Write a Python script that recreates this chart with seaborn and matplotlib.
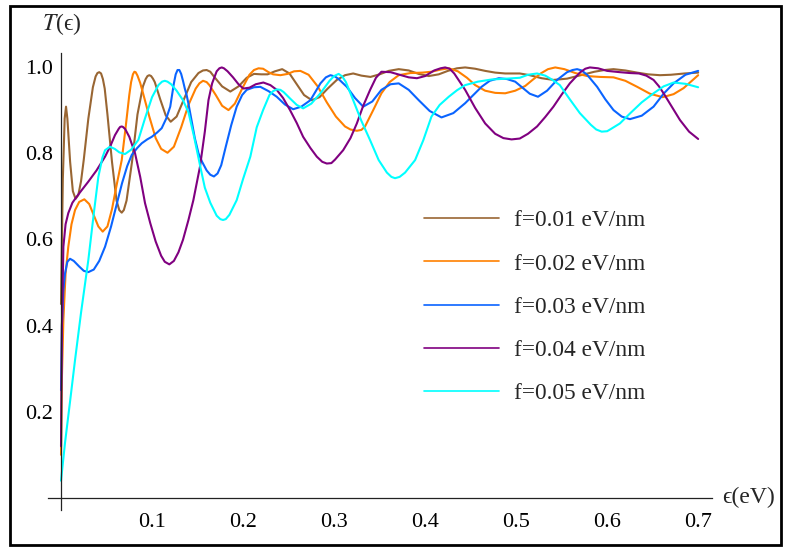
import numpy as np
import pandas as pd
import matplotlib
matplotlib.use("Agg")
import matplotlib.pyplot as plt
import seaborn as sns
from matplotlib.patches import Rectangle
from matplotlib.ticker import FixedLocator

# ---------------- data ----------------
labels = ["f=0.01 eV/nm", "f=0.02 eV/nm", "f=0.03 eV/nm", "f=0.04 eV/nm", "f=0.05 eV/nm"]
colors = ["#996633", "#FF8000", "#0A64FF", "#800080", "#00FFFF"]

eps_f01 = [0.000, 0.002, 0.004, 0.0055, 0.007, 0.010, 0.013, 0.016, 0.019, 0.022, 0.025, 0.030, 0.035, 0.038,
           0.040, 0.042, 0.044, 0.046, 0.048, 0.051, 0.056, 0.061, 0.064, 0.0667, 0.069, 0.072, 0.078, 0.084,
           0.090, 0.093, 0.095, 0.097, 0.099, 0.101, 0.103, 0.109, 0.115, 0.1205,
           0.127, 0.135, 0.143, 0.151, 0.156, 0.160, 0.164, 0.168, 0.177, 0.186, 0.195, 0.204, 0.212, 0.220, 0.227, 0.235,
           0.243, 0.251, 0.259, 0.267, 0.2755, 0.284, 0.293, 0.303, 0.312, 0.321, 0.330, 0.340, 0.350, 0.360,
           0.371, 0.382, 0.393, 0.404, 0.415, 0.425, 0.435, 0.444, 0.455, 0.466, 0.477, 0.488, 0.504, 0.515,
           0.528, 0.541, 0.556, 0.571, 0.586, 0.597, 0.607, 0.620, 0.633, 0.645, 0.658, 0.670, 0.685, 0.700]
T_f01 = [0.45, 0.74, 0.88, 0.908, 0.88, 0.78, 0.712, 0.694, 0.703, 0.735, 0.785, 0.88, 0.953, 0.978,
         0.986, 0.988, 0.985, 0.972, 0.950, 0.89, 0.78, 0.69, 0.668, 0.662, 0.668, 0.69, 0.78, 0.89,
         0.955, 0.972, 0.979, 0.981, 0.979, 0.973, 0.965, 0.925, 0.888, 0.873,
         0.885, 0.925, 0.965, 0.986, 0.992, 0.993, 0.989, 0.978, 0.955, 0.943, 0.955, 0.975, 0.984, 0.983, 0.983, 0.990,
         0.995, 0.985, 0.960, 0.935, 0.923, 0.930, 0.950, 0.970, 0.981, 0.985, 0.980, 0.977, 0.983, 0.991,
         0.995, 0.992, 0.984, 0.979, 0.983, 0.991, 0.997, 0.999, 0.996, 0.991, 0.987, 0.985, 0.985, 0.981,
         0.974, 0.970, 0.973, 0.981, 0.989, 0.993, 0.995, 0.992, 0.987, 0.983, 0.981, 0.982, 0.985, 0.987]

eps_f02 = [0.000, 0.001, 0.0026, 0.005, 0.008, 0.0115, 0.0154, 0.020, 0.0256, 0.031, 0.036, 0.041, 0.0458,
           0.051, 0.056, 0.061, 0.0667, 0.071, 0.075, 0.077, 0.079, 0.0806, 0.082, 0.084, 0.087, 0.090, 0.097,
           0.104, 0.110, 0.117,
           0.124, 0.132, 0.140, 0.148, 0.152, 0.156, 0.160, 0.163, 0.170, 0.177, 0.184, 0.191, 0.199, 0.207, 0.212,
           0.217, 0.222, 0.228, 0.233, 0.241, 0.249, 0.256, 0.263, 0.272, 0.282, 0.292, 0.302, 0.312, 0.318, 0.325,
           0.330, 0.334, 0.343, 0.352,
           0.361, 0.371, 0.384, 0.397, 0.407, 0.417, 0.426, 0.436, 0.446, 0.455, 0.466, 0.477, 0.488, 0.499,
           0.510, 0.518, 0.527, 0.535, 0.543, 0.553, 0.565, 0.578, 0.592, 0.607, 0.620, 0.633, 0.647, 0.661,
           0.673, 0.684, 0.692, 0.700]
T_f02 = [0.10, 0.28, 0.413, 0.52, 0.583, 0.635, 0.668, 0.687, 0.693, 0.682, 0.656, 0.630, 0.618,
         0.630, 0.670, 0.725, 0.784, 0.860, 0.935, 0.965, 0.983, 0.989, 0.988, 0.980, 0.963, 0.940, 0.885,
         0.835, 0.810, 0.801,
         0.815, 0.860, 0.912, 0.950, 0.962, 0.968, 0.965, 0.958, 0.935, 0.910, 0.900, 0.915, 0.950, 0.982, 0.993,
         0.997, 0.996, 0.988, 0.983, 0.981, 0.984, 0.990, 0.991, 0.982, 0.955, 0.918, 0.885, 0.862, 0.855, 0.852,
         0.854, 0.862, 0.900, 0.939,
         0.965, 0.981, 0.986, 0.987, 0.989, 0.994, 0.997, 0.990, 0.975, 0.958, 0.945, 0.940, 0.939, 0.945,
         0.956, 0.970, 0.985, 0.995, 0.999, 0.995, 0.986, 0.979, 0.977, 0.976, 0.968, 0.954, 0.938, 0.930,
         0.937, 0.951, 0.966, 0.981]

eps_f03 = [0.000, 0.001, 0.0025, 0.0044, 0.007, 0.0099, 0.014, 0.020, 0.025, 0.030, 0.036, 0.042, 0.0484,
           0.055, 0.061, 0.067, 0.0727, 0.0777, 0.0837, 0.0887, 0.0947, 0.0997, 0.1056, 0.1106, 0.1155, 0.120,
           0.122, 0.124, 0.126, 0.128, 0.130, 0.132, 0.134, 0.136, 0.138, 0.140, 0.1435, 0.147, 0.151, 0.155,
           0.160, 0.164, 0.168, 0.172, 0.176, 0.181, 0.187,
           0.193, 0.199, 0.204, 0.212, 0.219, 0.228, 0.237, 0.246, 0.255, 0.264, 0.274, 0.285, 0.291, 0.296, 0.301,
           0.305, 0.314, 0.323, 0.332, 0.342, 0.352, 0.362, 0.371, 0.382, 0.393, 0.405, 0.418, 0.431, 0.444,
           0.453, 0.462, 0.471, 0.481, 0.490, 0.499, 0.507, 0.515, 0.524, 0.534, 0.545, 0.556, 0.562, 0.567,
           0.572, 0.578, 0.589, 0.598, 0.607, 0.616, 0.625, 0.638, 0.651, 0.662, 0.673, 0.686, 0.700]
T_f03 = [0.25, 0.40, 0.48, 0.521, 0.548, 0.555, 0.550, 0.537, 0.527, 0.524, 0.530, 0.550, 0.583,
         0.630, 0.680, 0.730, 0.770, 0.796, 0.812, 0.823, 0.832, 0.838, 0.848, 0.858, 0.880, 0.908,
         0.935, 0.962, 0.983, 0.993, 0.993, 0.984, 0.968, 0.950, 0.935, 0.915, 0.875, 0.835, 0.800, 0.780,
         0.760, 0.750, 0.746, 0.753, 0.772, 0.815, 0.865,
         0.908, 0.935, 0.947, 0.953, 0.954, 0.944, 0.931, 0.913, 0.902, 0.908, 0.923, 0.962, 0.976, 0.981, 0.978,
         0.972, 0.954, 0.928, 0.908, 0.920, 0.947, 0.960, 0.962, 0.947, 0.923, 0.898, 0.883, 0.893, 0.916,
         0.935, 0.954, 0.968, 0.974, 0.972, 0.966, 0.952, 0.938, 0.931, 0.945, 0.970, 0.988, 0.993, 0.995,
         0.992, 0.982, 0.954, 0.925, 0.900, 0.885, 0.879, 0.887, 0.908, 0.938, 0.962, 0.982, 0.991]

eps_f04 = [0.000, 0.001, 0.0026, 0.005, 0.008, 0.0125, 0.0172, 0.023, 0.030, 0.039, 0.0484, 0.0545, 0.0593,
           0.0635, 0.065, 0.0667, 0.068, 0.0705, 0.075, 0.0813, 0.087, 0.0923, 0.098, 0.104, 0.110, 0.114, 0.119,
           0.124, 0.129, 0.134, 0.140, 0.1454, 0.1527, 0.158, 0.162, 0.166, 0.171, 0.174, 0.1766, 0.179, 0.183,
           0.189, 0.195, 0.2003,
           0.207, 0.214, 0.2223, 0.230, 0.237, 0.244, 0.2516, 0.259, 0.266, 0.274, 0.281, 0.287, 0.292, 0.297, 0.301,
           0.310, 0.318, 0.325, 0.332, 0.3396, 0.346, 0.352, 0.362, 0.372, 0.382, 0.391, 0.400, 0.410, 0.417,
           0.422, 0.427, 0.432, 0.444, 0.455, 0.466, 0.477, 0.486, 0.495, 0.504, 0.513, 0.523, 0.532, 0.541,
           0.550, 0.559, 0.570, 0.576, 0.581, 0.590, 0.600, 0.614, 0.625, 0.635, 0.643, 0.651, 0.657, 0.662,
           0.671, 0.680, 0.690, 0.700]
T_f04 = [0.12, 0.40, 0.583, 0.635, 0.661, 0.685, 0.699, 0.715, 0.734, 0.760, 0.792, 0.818, 0.842,
         0.857, 0.861, 0.862, 0.861, 0.856, 0.838, 0.800, 0.745, 0.684, 0.638, 0.595, 0.562, 0.548, 0.542,
         0.550, 0.570, 0.599, 0.645, 0.691, 0.769, 0.850, 0.923, 0.962, 0.990, 0.997, 0.999, 0.997, 0.990,
         0.976, 0.960, 0.950,
         0.952, 0.960, 0.964, 0.958, 0.947, 0.928, 0.900, 0.870, 0.838, 0.812, 0.792, 0.780, 0.776, 0.777, 0.785,
         0.807, 0.835, 0.869, 0.910, 0.947, 0.975, 0.989, 0.988, 0.982, 0.976, 0.974, 0.979, 0.992, 0.997,
         0.999, 0.996, 0.985, 0.947, 0.905, 0.869, 0.845, 0.835, 0.832, 0.834, 0.845, 0.862, 0.884, 0.908,
         0.936, 0.962, 0.987, 0.996, 0.999, 0.997, 0.991, 0.988, 0.986, 0.985, 0.980, 0.970, 0.955, 0.939,
         0.908, 0.877, 0.850, 0.833]

eps_f05 = [0.000, 0.0044, 0.010, 0.0154, 0.022, 0.030, 0.036, 0.041, 0.0455, 0.0484, 0.0538, 0.059, 0.064,
           0.0703, 0.077, 0.085, 0.0923, 0.100, 0.107, 0.111, 0.114, 0.117, 0.121, 0.127, 0.134, 0.140, 0.146,
           0.153, 0.158, 0.164, 0.171, 0.175, 0.178, 0.181, 0.185, 0.193, 0.200, 0.208, 0.215, 0.222, 0.229,
           0.233, 0.237, 0.241, 0.2445, 0.2516, 0.259,
           0.266, 0.275, 0.285, 0.295, 0.300, 0.305, 0.309, 0.313, 0.321, 0.330, 0.3396, 0.349, 0.358, 0.363, 0.367,
           0.372, 0.378, 0.389, 0.398, 0.407, 0.416, 0.426, 0.435, 0.444, 0.458, 0.473, 0.490, 0.504, 0.513,
           0.523, 0.532, 0.540, 0.548, 0.559, 0.570, 0.582, 0.588, 0.594, 0.600, 0.604, 0.614, 0.625, 0.638,
           0.651, 0.662, 0.673, 0.686, 0.700]
T_f05 = [0.04, 0.128, 0.225, 0.320, 0.430, 0.552, 0.660, 0.745, 0.790, 0.807, 0.815, 0.810, 0.802,
         0.798, 0.808, 0.831, 0.881, 0.930, 0.958, 0.966, 0.968, 0.966, 0.960, 0.945, 0.923, 0.895, 0.840,
         0.769, 0.720, 0.685, 0.655, 0.647, 0.645, 0.647, 0.657, 0.691, 0.740, 0.792, 0.860, 0.900, 0.935,
         0.944, 0.948, 0.947, 0.942, 0.927, 0.912,
         0.904, 0.915, 0.939, 0.968, 0.979, 0.984, 0.978, 0.965, 0.923, 0.875, 0.830, 0.784, 0.755, 0.745, 0.742,
         0.745, 0.755, 0.784, 0.830, 0.885, 0.912, 0.931, 0.946, 0.958, 0.966, 0.971, 0.973, 0.975, 0.982,
         0.985, 0.980, 0.970, 0.958, 0.925, 0.893, 0.866, 0.855, 0.850, 0.851, 0.856, 0.869, 0.892, 0.918,
         0.939, 0.955, 0.964, 0.961, 0.953]

x_ticks = [0.1, 0.2, 0.3, 0.4, 0.5, 0.6, 0.7]
x_tick_labels = ["0.1", "0.2", "0.3", "0.4", "0.5", "0.6", "0.7"]
y_ticks = [0.2, 0.4, 0.6, 0.8, 1.0]
y_tick_labels = ["0.2", "0.4", "0.6", "0.8", "1.0"]

# ---------------- build long-form table ----------------
series = [(eps_f01, T_f01), (eps_f02, T_f02), (eps_f03, T_f03), (eps_f04, T_f04), (eps_f05, T_f05)]
frames = []
for lab, (ex, ty) in zip(labels, series):
    frames.append(pd.DataFrame({"eps": ex, "T": ty, "curve": lab}))
df = pd.concat(frames, ignore_index=True)

# ---------------- styling ----------------
sns.set_theme(style="white")
plt.rcParams["font.family"] = ["Liberation Serif", "DejaVu Serif"]
plt.rcParams["mathtext.fontset"] = "stix"

W, H = 787, 547
fig = plt.figure(figsize=(W / 100, H / 100), dpi=100)
fig.patch.set_facecolor("white")

x0, x1 = -0.0143, 0.7152
y0, y1 = -0.028, 1.0325
ax = fig.add_axes([48 / W, 37 / H, (712 - 48) / W, (510 - 53) / H])
ax.set_facecolor("white")

sns.lineplot(data=df, x="eps", y="T", hue="curve", hue_order=labels, palette=colors,
             estimator=None, sort=False, linewidth=1.5, ax=ax, legend=True)
for ln in ax.get_lines():
    ln.set_solid_joinstyle("round")

ax.set_xlim(x0, x1)
ax.set_ylim(y0, y1)
ax.set_xlabel("")
ax.set_ylabel("")

for side in ["top", "right"]:
    ax.spines[side].set_visible(False)
ax.spines["left"].set_position(("data", 0))
ax.spines["bottom"].set_position(("data", 0))
for side in ["left", "bottom"]:
    ax.spines[side].set_color("#222222")
    ax.spines[side].set_linewidth(0.9)

ax.set_xticks(x_ticks)
ax.set_xticklabels(x_tick_labels)
ax.set_yticks(y_ticks)
ax.set_yticklabels(y_tick_labels)
ax.xaxis.set_minor_locator(FixedLocator([v / 100 for v in range(2, 71, 2) if v % 10 != 0]))
ax.yaxis.set_minor_locator(FixedLocator([v / 100 for v in range(5, 101, 5) if v % 20 != 0]))
ax.tick_params(which="both", direction="in", colors="#333333", labelcolor="black")
ax.tick_params(which="major", length=6, width=0.9, labelsize=16)
ax.tick_params(which="minor", length=3.2, width=0.8)
ax.tick_params(axis="x", which="major", pad=11)
ax.tick_params(axis="y", which="major", pad=6)

# legend
handles, labs = ax.get_legend_handles_labels()
ax.get_legend().remove()
leg = ax.legend(handles, labs, loc="upper left", bbox_to_anchor=(424 / W, 1 - 210 / H),
                bbox_transform=fig.transFigure, frameon=False, fontsize=16.8,
                handlelength=3.2, handletextpad=0.64, labelspacing=0.94, borderpad=0.0,
                borderaxespad=0.0)
for ln in leg.get_lines():
    ln.set_linewidth(1.2)

# axis labels
fig.text(42 / W, 1 - 24 / H, r"$T$(" + "\u03f5" + ")", fontsize=17, ha="left", va="center")
fig.text(722 / W, 1 - 497 / H, "\u03f5(eV)", fontsize=17, ha="left", va="center")

# outer frame
fig.patches.append(Rectangle((9.5 / W, 2 / H), (781 - 9.5) / W, (541.5 - 2) / H,
                             transform=fig.transFigure, fill=False, edgecolor="black",
                             linewidth=2.0, zorder=10))

fig.savefig("out.png", dpi=100)
